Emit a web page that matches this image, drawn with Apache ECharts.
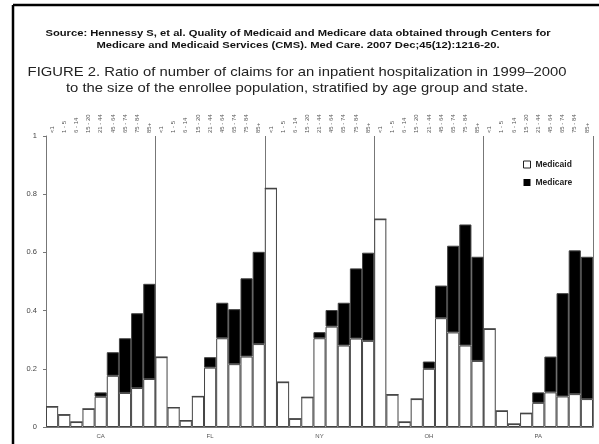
<!DOCTYPE html>
<html>
<head>
<meta charset="utf-8">
<script src="https://cdn.jsdelivr.net/npm/echarts@6/dist/echarts.min.js"></script>
<style>
  html, body { margin: 0; padding: 0; background: #fff; }
  #main { width: 599px; height: 444px; }
</style>
</head>
<body>
<div id="main"></div>
<script>
// states and age groups
var states = ['CA', 'FL', 'NY', 'OH', 'PA'];
var ages = ['<1', '1 - 5', '6 - 14', '15 - 20', '21 - 44', '45 - 64', '65 - 74', '75 - 84', '85+'];

// Medicaid (white, bottom part) per state, by age group
var medicaidCA = [0.070, 0.042, 0.017, 0.062, 0.104, 0.176, 0.117, 0.134, 0.165];
var medicaidFL = [0.240, 0.067, 0.022, 0.105, 0.204, 0.305, 0.216, 0.242, 0.285];
var medicaidNY = [0.820, 0.154, 0.028, 0.102, 0.305, 0.345, 0.280, 0.304, 0.296];
var medicaidOH = [0.714, 0.111, 0.017, 0.096, 0.200, 0.374, 0.325, 0.280, 0.227];
var medicaidPA = [0.337, 0.055, 0.010, 0.047, 0.083, 0.119, 0.105, 0.113, 0.096];

// Medicare (black, stacked on top)
var medicareCA = [0, 0, 0, 0, 0.015, 0.081, 0.188, 0.257, 0.327];
var medicareFL = [0, 0, 0, 0, 0.036, 0.122, 0.189, 0.269, 0.317];
var medicareNY = [0, 0, 0, 0, 0.021, 0.057, 0.147, 0.241, 0.303];
var medicareOH = [0, 0, 0, 0, 0.025, 0.112, 0.298, 0.416, 0.358];
var medicarePA = [0, 0, 0, 0, 0.036, 0.123, 0.355, 0.494, 0.489];

var yTicks = [0, 0.2, 0.4, 0.6, 0.8, 1];

var sourceText = 'Source: Hennessy S, et al. Quality of Medicaid and Medicare data obtained through Centers for\nMedicare and Medicaid Services (CMS). Med Care. 2007 Dec;45(12):1216-20.';
var figureText = 'FIGURE 2. Ratio of number of claims for an inpatient hospitalization in 1999\u20132000\nto the size of the enrollee population, stratified by age group and state.';

// build the 45 categories (state|age)
var cats = [];
states.forEach(function (s) {
  ages.forEach(function (a) { cats.push(s + '|' + a); });
});
var medicaid = [].concat(medicaidCA, medicaidFL, medicaidNY, medicaidOH, medicaidPA);
var medicare = [].concat(medicareCA, medicareFL, medicareNY, medicareOH, medicarePA);

var font = 'Liberation Sans, Arial, sans-serif';
var gray = '#777';

var chart = echarts.init(document.getElementById('main'), null, { renderer: 'canvas' });

var option = {
  animation: false,
  backgroundColor: '#fff',
  textStyle: { fontFamily: font },
  legend: {
    orient: 'vertical',
    left: 518,
    top: 155,
    itemWidth: 7,
    itemHeight: 7,
    itemGap: 9,
    icon: 'rect',
    textStyle: { fontFamily: font, fontSize: 8.5, fontWeight: 'bold', color: '#222' },
    data: [
      { name: 'Medicaid', itemStyle: { color: '#fff', borderColor: '#222', borderWidth: 1 } },
      { name: 'Medicare', itemStyle: { color: '#000', borderColor: '#000', borderWidth: 0 } }
    ]
  },
  grid: { left: 46, right: 6, top: 136, bottom: 17 },
  xAxis: [
    {
      type: 'category',
      position: 'top',
      data: cats,
      boundaryGap: true,
      axisLine: { show: true, lineStyle: { color: gray, width: 1 } },
      axisTick: { show: false },
      axisLabel: {
        interval: 0,
        rotate: 90,
        fontSize: 6,
        color: '#555',
        margin: 3,
        formatter: function (v) { return v.split('|')[1]; }
      },
      splitLine: { show: false }
    },
    {
      type: 'category',
      position: 'bottom',
      data: states,
      boundaryGap: true,
      axisLine: { show: true, lineStyle: { color: gray, width: 1 } },
      axisTick: { show: false },
      axisLabel: { interval: 0, fontSize: 6, color: '#555', margin: 6 },
      splitLine: { show: true, interval: 0, lineStyle: { color: gray, width: 1 } }
    }
  ],
  yAxis: {
    type: 'value',
    min: 0,
    max: 1,
    interval: 0.2,
    axisLine: { show: true, lineStyle: { color: gray, width: 1 } },
    axisTick: { show: true, length: 3, lineStyle: { color: gray } },
    axisLabel: {
      fontSize: 7.5,
      color: '#444',
      margin: 9,
      formatter: function (v) {
        for (var i = 0; i < yTicks.length; i++) {
          if (Math.abs(yTicks[i] - v) < 1e-9) return String(yTicks[i]);
        }
        return '';
      }
    },
    splitLine: { show: false }
  },
  series: [
    {
      name: 'Medicaid',
      type: 'bar',
      stack: 'claims',
      xAxisIndex: 0,
      barCategoryGap: '0%',
      itemStyle: { color: '#fff', borderColor: '#444', borderWidth: 1 },
      data: medicaid
    },
    {
      name: 'Medicare',
      type: 'bar',
      stack: 'claims',
      xAxisIndex: 0,
      barCategoryGap: '0%',
      itemStyle: { color: '#000', borderColor: '#444', borderWidth: 1 },
      data: medicare
    }
  ],
  graphic: [
    { type: 'line', shape: { x1: 13, y1: 5, x2: 599, y2: 5 }, style: { stroke: '#000', lineWidth: 2.5 } },
    { type: 'line', shape: { x1: 13, y1: 5, x2: 13, y2: 444 }, style: { stroke: '#000', lineWidth: 2.5 } },
    {
      type: 'text', x: 298, y: 28, scaleX: 1.18,
      style: { text: sourceText, font: 'bold 9.5px ' + font, fill: '#111', textAlign: 'center', lineHeight: 11.5 }
    },
    {
      type: 'text', x: 297, y: 64, scaleX: 1.14,
      style: { text: figureText, font: '13px ' + font, fill: '#222', textAlign: 'center', lineHeight: 16.5 }
    }
  ]
};

chart.setOption(option);
</script>
</body>
</html>
